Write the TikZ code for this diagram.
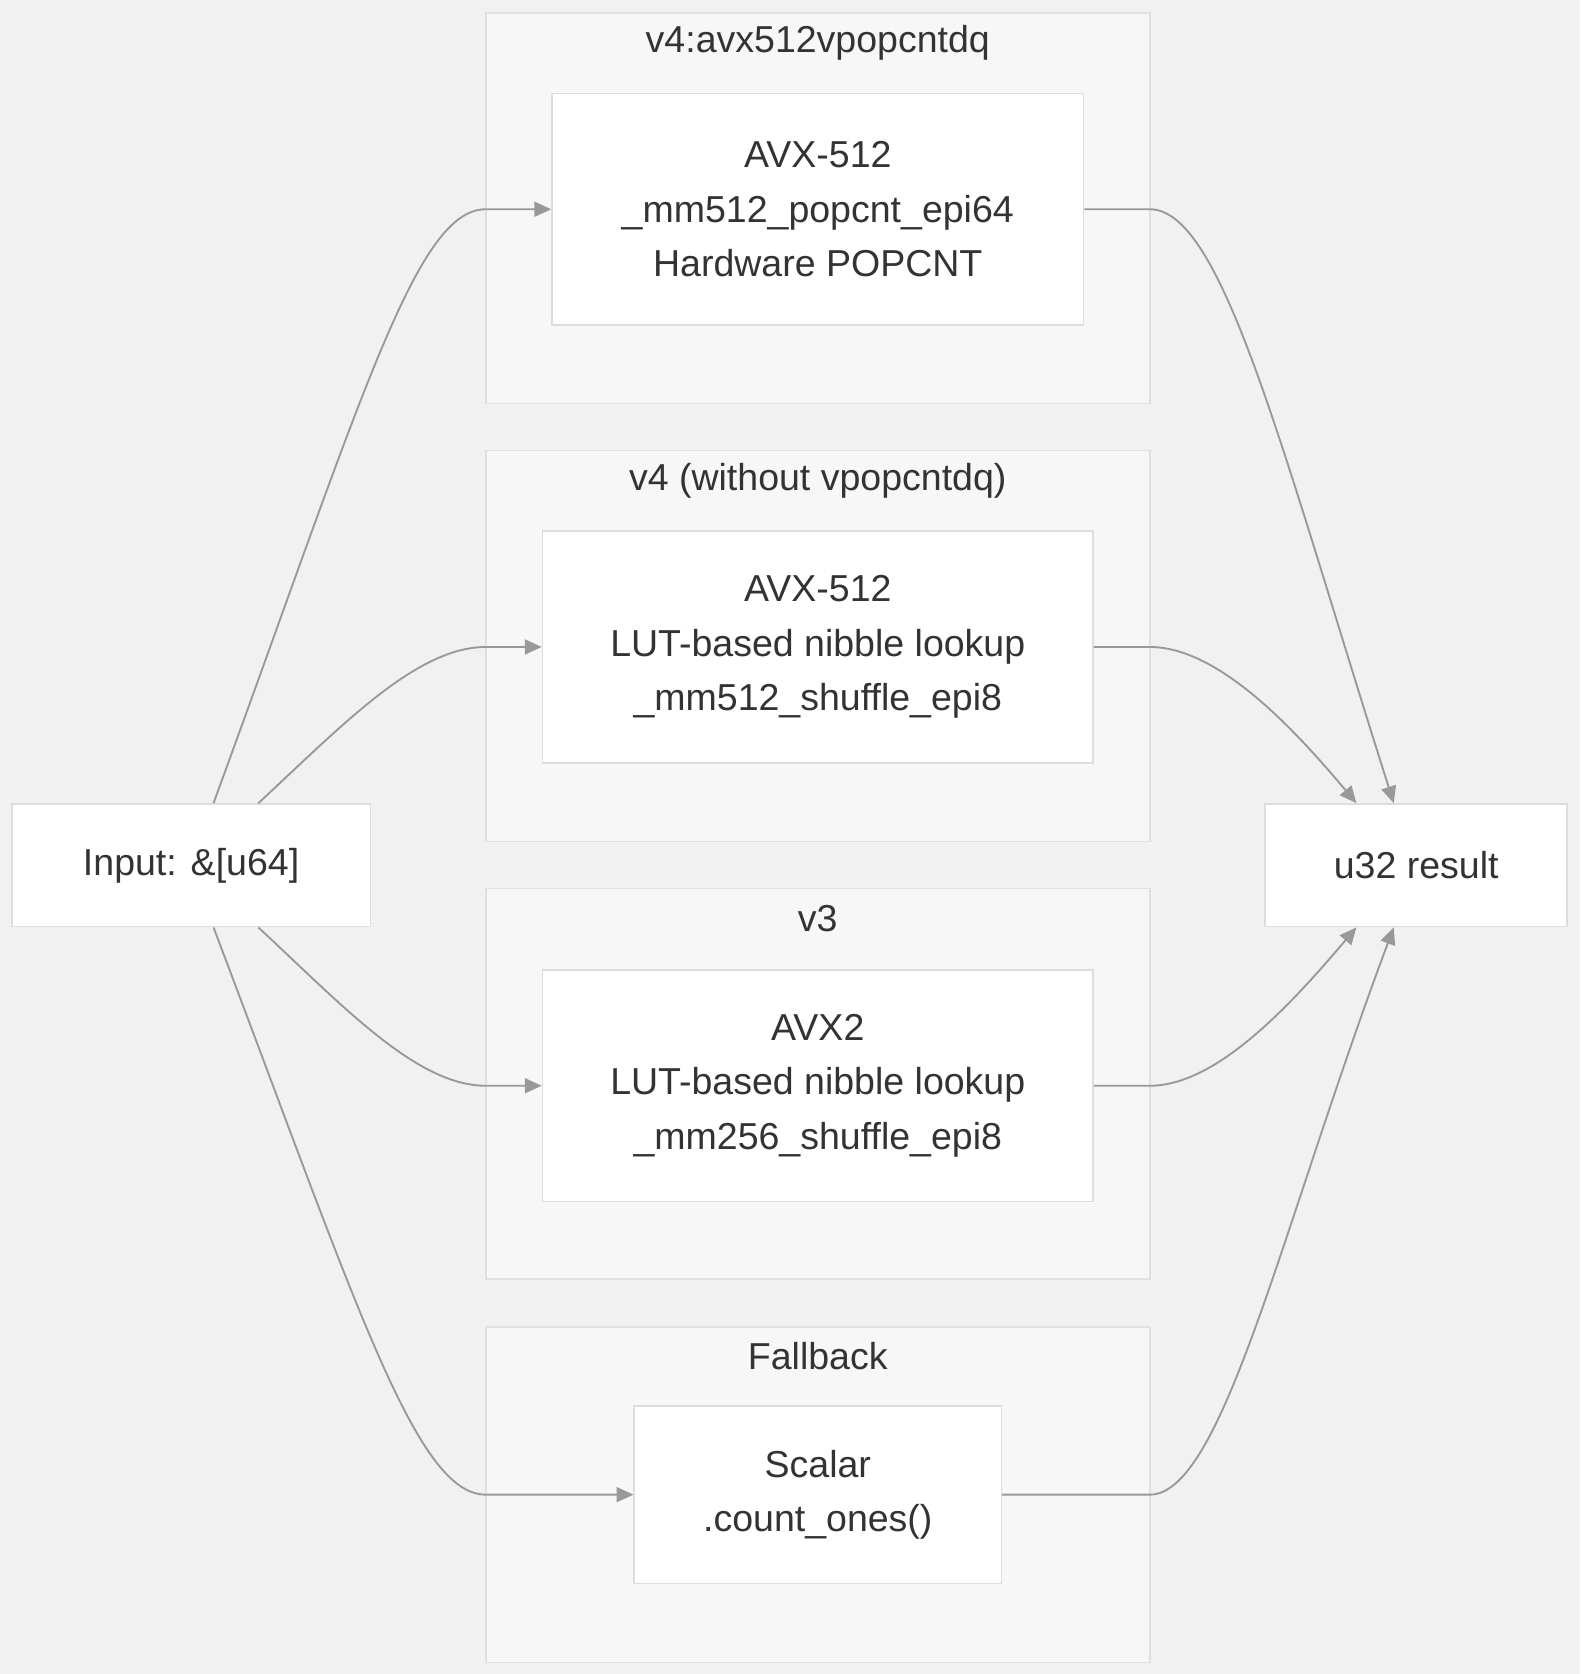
\documentclass[tikz,border=0pt]{standalone}
\usepackage{fontspec}
\setmainfont{Liberation Sans}
\usetikzlibrary{arrows.meta,calc}
\definecolor{bgcol}{HTML}{F1F1F1}
\definecolor{clfill}{HTML}{F7F7F7}
\definecolor{clline}{HTML}{E0E0E0}
\definecolor{boxline}{HTML}{DDDDDD}
\definecolor{edgecol}{HTML}{999999}
\definecolor{txtcol}{HTML}{333333}
\begin{document}
\begin{tikzpicture}[x=0.02cm, y=-0.02cm,
    every node/.style={text=txtcol, font=\fontsize{20}{29}\selectfont},
    cluster/.style={fill=clfill, draw=clline, line width=0.8pt},
    title/.style={inner sep=0pt},
    box/.style={draw=boxline, fill=white, line width=0.8pt, align=center, inner sep=0pt},
    edge/.style={draw=edgecol, line width=1pt, -{Triangle[length=9pt,width=8pt]}}]
    \fill[bgcol] (0,0) rectangle (1480,1568);
    \useasboundingbox (0,0) rectangle (1480,1568);

    \draw[cluster] (455,12) rectangle (1077,378);
    \draw[cluster] (455,422) rectangle (1077,788);
    \draw[cluster] (455,832) rectangle (1077,1198);
    \draw[cluster] (455,1243) rectangle (1077,1557);
    \node[title] (t1) at (766,40) {v4:avx512vpopcntdq};
    \node[title] (t2) at (766,450) {v4 (without vpopcntdq)};
    \node[title] (t3) at (766,860) {v3};
    \node[title] (t4) at (766,1270) {Fallback};

    \node[box, minimum width=9.96cm, minimum height=4.34cm] (hw) at (766,196)
        {AVX-512\\\_mm512\_popcnt\_epi64\\Hardware POPCNT};
    \node[box, minimum width=10.32cm, minimum height=4.34cm] (lut512) at (766,606)
        {AVX-512\\LUT-based nibble lookup\\\_mm512\_shuffle\_epi8};
    \node[box, minimum width=10.32cm, minimum height=4.34cm] (lut256) at (766,1017)
        {AVX2\\LUT-based nibble lookup\\\_mm256\_shuffle\_epi8};
    \node[box, minimum width=6.88cm, minimum height=3.32cm] (scalar) at (766,1400)
        {Scalar\\.count\_ones()};
    \node[box, minimum width=6.72cm, minimum height=2.3cm] (in) at (179,810.5) {Input: \&[u64]};
    \node[box, minimum width=5.66cm, minimum height=2.3cm] (out) at (1326.5,810.5) {u32 result};

    \draw[edge] ($(in.north)+(21,0)$) .. controls (340,370) and (390,196) .. (455,196) -- (hw.west);
    \draw[edge] ($(in.north)+(63,0)$) .. controls (320,680) and (390,606) .. (455,606) -- (lut512.west);
    \draw[edge] ($(in.south)+(63,0)$) .. controls (320,941) and (390,1017) .. (455,1017) -- (lut256.west);
    \draw[edge] ($(in.south)+(21,0)$) .. controls (335,1225) and (390,1400) .. (455,1400) -- (scalar.west);

    \draw[edge] (hw.east) -- (1077,196) .. controls (1145,196) and (1200,420) .. ($(out.north)+(-21,0)$);
    \draw[edge] (lut512.east) -- (1077,606) .. controls (1140,606) and (1210,680) .. ($(out.north)+(-56,0)$);
    \draw[edge] (lut256.east) -- (1077,1017) .. controls (1140,1017) and (1210,940) .. ($(out.south)+(-56,0)$);
    \draw[edge] (scalar.east) -- (1077,1400) .. controls (1145,1400) and (1200,1150) .. ($(out.south)+(-21,0)$);
\end{tikzpicture}
\end{document}
